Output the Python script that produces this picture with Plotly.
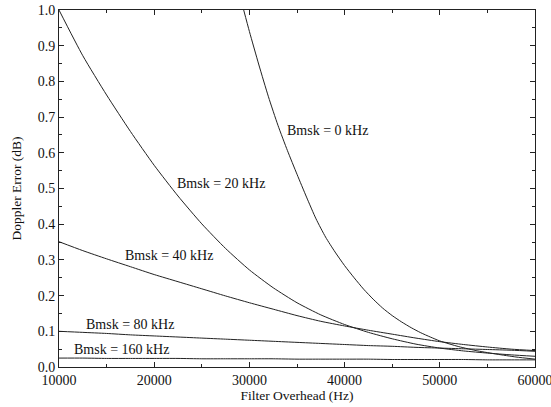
import plotly.graph_objects as go

# Filter overhead (Hz) sample points
x_common = [10000, 12500, 15000, 17500, 20000, 22500, 25000, 27500, 30000,
            32500, 35000, 37500, 40000, 42500, 45000, 47500, 50000, 52500,
            55000, 57500, 60000]

err_20 = [1.000, 0.872, 0.762, 0.660, 0.565, 0.479, 0.401, 0.332, 0.272,
          0.222, 0.180, 0.146, 0.119, 0.097, 0.079, 0.064, 0.053, 0.045,
          0.039, 0.034, 0.030]
err_40 = [0.351, 0.326, 0.303, 0.281, 0.259, 0.239, 0.219, 0.199, 0.180,
          0.162, 0.144, 0.128, 0.115, 0.103, 0.092, 0.081, 0.071, 0.063,
          0.056, 0.050, 0.046]
err_80 = [0.100, 0.097, 0.094, 0.090, 0.087, 0.084, 0.081, 0.078, 0.075,
          0.072, 0.069, 0.066, 0.063, 0.060, 0.058, 0.055, 0.053, 0.051,
          0.049, 0.047, 0.044]
err_160 = [0.025, 0.025, 0.024, 0.024, 0.024, 0.024, 0.023, 0.023, 0.023,
           0.023, 0.022, 0.022, 0.022, 0.022, 0.021, 0.021, 0.021, 0.021,
           0.020, 0.020, 0.020]

x_0 = [29400, 30000, 31000, 32000, 33000, 34000, 35000, 36000, 37000, 38000,
       39000, 40000, 41000, 42000, 43000, 44000, 45000, 46000, 47000, 48000,
       49000, 50000, 52000, 54000, 56000, 58000, 60000]
err_0 = [1.000, 0.940, 0.846, 0.757, 0.677, 0.606, 0.540, 0.476, 0.415, 0.364,
         0.322, 0.284, 0.250, 0.218, 0.190, 0.165, 0.144, 0.126, 0.110, 0.096,
         0.084, 0.073, 0.057, 0.045, 0.036, 0.028, 0.022]

labels = ["Bmsk = 0 kHz", "Bmsk = 20 kHz", "Bmsk = 40 kHz",
          "Bmsk = 80 kHz", "Bmsk = 160 kHz"]
label_x = [38200, 27050, 21580, 17440, 16530]
label_y = [0.663, 0.515, 0.311, 0.119, 0.049]

x_ticks = [10000, 20000, 30000, 40000, 50000, 60000]
y_ticks = [0.0, 0.1, 0.2, 0.3, 0.4, 0.5, 0.6, 0.7, 0.8, 0.9, 1.0]

FONT = "Liberation Serif"
line = dict(color="#222222", width=1, shape="spline", smoothing=0.6)

fig = go.Figure()
fig.add_trace(go.Scatter(x=x_0, y=err_0, mode="lines", line=line, name=labels[0]))
fig.add_trace(go.Scatter(x=x_common, y=err_20, mode="lines", line=line, name=labels[1]))
fig.add_trace(go.Scatter(x=x_common, y=err_40, mode="lines", line=line, name=labels[2]))
fig.add_trace(go.Scatter(x=x_common, y=err_80, mode="lines", line=line, name=labels[3]))
fig.add_trace(go.Scatter(x=x_common, y=err_160, mode="lines", line=line, name=labels[4]))

for t, lx, ly in zip(labels, label_x, label_y):
    fig.add_annotation(x=lx, y=ly, text=t, showarrow=False,
                       font=dict(family=FONT, size=14, color="#111"))

axis_common = dict(
    showgrid=False, zeroline=False, showline=True, linecolor="#222",
    linewidth=1, mirror="allticks", ticks="inside", ticklen=5,
    tickcolor="#222", tickfont=dict(family=FONT, size=14, color="#111"),
    ticklabeloverflow="allow",
)

fig.update_xaxes(range=[10000, 60000.5], tickvals=x_ticks,
                 ticktext=[str(v) for v in x_ticks],
                 minor=dict(ticks="inside", ticklen=3, dtick=5000, tickcolor="#222"),
                 title=dict(text="Filter Overhead (Hz)", standoff=1,
                            font=dict(family=FONT, size=13.5, color="#111")),
                 **axis_common)
fig.update_yaxes(range=[0, 1.0001], tickvals=y_ticks,
                 ticktext=[f"{v:.1f}" for v in y_ticks],
                 minor=dict(ticks="inside", ticklen=3, dtick=0.05, tickcolor="#222"),
                 title=dict(text="Doppler Error (dB)", standoff=12,
                            font=dict(family=FONT, size=13.5, color="#111")),
                 **axis_common)

fig.update_layout(
    width=551, height=407, showlegend=False,
    paper_bgcolor="white", plot_bgcolor="white",
    margin=dict(l=59, r=16, t=10, b=40, autoexpand=False),
)

fig.write_html("out.html", config={"displayModeBar": False},
               post_script="document.body.style.margin='0';")
